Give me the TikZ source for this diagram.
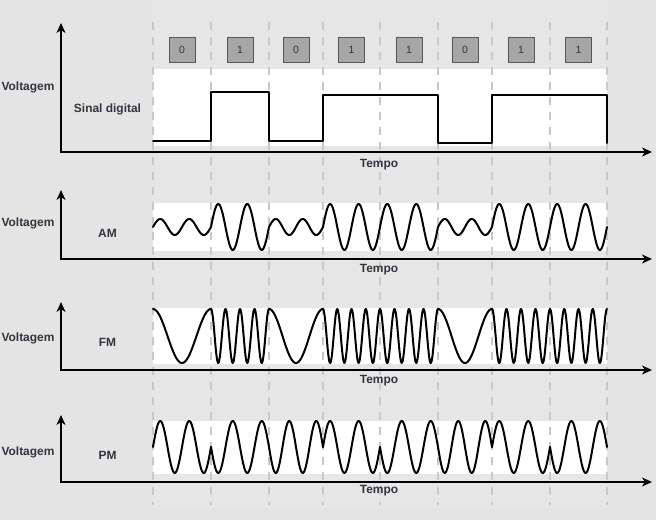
\documentclass[tikz,border=0pt]{standalone}
\usepackage{fontspec}
\setmainfont{Liberation Sans}
\usetikzlibrary{arrows.meta}
\definecolor{bg}{HTML}{E4E4E4}
\definecolor{colbg}{HTML}{E6E6E6}
\definecolor{dashc}{HTML}{C8C8C8}
\definecolor{boxfill}{HTML}{A6A6A6}
\definecolor{boxdraw}{HTML}{575757}
\definecolor{labc}{HTML}{34343F}
\tikzset{
  axis/.style={line width=2bp, black, {Stealth[length=10bp,width=9bp,inset=3bp]}-{Stealth[length=10bp,width=9bp,inset=3bp]}},
  sig/.style={line width=2bp, black, line cap=round, line join=round},
  band/.style={fill=white, draw=none},
  sep/.style={line width=2bp, dashc, dash pattern=on 8bp off 7bp},
  lab/.style={text=labc, font=\fontsize{12}{14}\selectfont\bfseries, inner sep=0pt},
  bitbox/.style={fill=boxfill, draw=boxdraw, line width=0.8bp, minimum width=26bp, minimum height=25bp, inner sep=0pt, text=labc, font=\fontsize{10.5}{12}\selectfont}
}
\begin{document}
\begin{tikzpicture}[x=1bp,y=-1bp]
\useasboundingbox (0,0) rectangle (656,520);
\fill[bg] (0,0) rectangle (656,520);
\fill[colbg] (153,0) rectangle (607,508);
% white bands
\fill[band] (153,69) rectangle (607,146);
\fill[band] (153,203) rectangle (607,251);
\fill[band] (153,308) rectangle (607,364);
\fill[band] (153,421) rectangle (607,474);
% dashed separators
\foreach \xx in {153,211,269,323,380,438,492,550,607}
  \draw[sep] (\xx,22) -- (\xx,505);
% bit boxes
\foreach \xx/\bb/\nn in {182/0/b1,240/1/b2,296/0/b3,351.5/1/b4,409/1/b5,465/0/b6,521/1/b7,578.5/1/b8}
  \node[bitbox] (\nn) at (\xx,49.5) {\bb};
% axes
\foreach \i/\top/\ax in {1/23/152,2/190/259,3/302/370,4/415/482}{
  \coordinate (ytip\i) at (61,\top);
  \coordinate (xtip\i) at (652,\ax);
  \draw[axis] (ytip\i) |- (xtip\i);
}
% labels
\node[lab] (v1) at (28,87) {Voltagem};
\node[lab] (v2) at (28,223) {Voltagem};
\node[lab] (v3) at (28,338) {Voltagem};
\node[lab] (v4) at (28,452) {Voltagem};
\node[lab] (n1) at (107.5,109) {Sinal digital};
\node[lab] (n2) at (107.5,233) {AM};
\node[lab] (n3) at (107.5,342) {FM};
\node[lab] (n4) at (107.5,455) {PM};
\node[lab] (t1) at (379,165) {Tempo};
\node[lab] (t2) at (379,270) {Tempo};
\node[lab] (t3) at (379,381) {Tempo};
\node[lab] (t4) at (379,491) {Tempo};
% digital signal
\draw[sig] (153,141) -- (211,141) -- (211,92) -- (269,92) -- (269,141) -- (323,141)
  -- (323,95) -- (438,95) -- (438,143) -- (492,143) -- (492,95) -- (607,95) -- (607,143);
% modulated signals
\foreach \a/\b/\bit/\s in {153/211/0/1,211/269/1/-1,269/323/0/-1,323/380/1/1,380/438/1/-1,438/492/0/-1,492/550/1/1,550/607/1/-1}{
  \pgfmathsetmacro{\amp}{\bit==1 ? 23 : 8}
  \pgfmathsetmacro{\nf}{\bit==1 ? 4 : 1}
  \pgfmathsetmacro{\wd}{\b-\a}
  \draw[sig] plot[domain=\a:\b, samples=80] (\x, {227 - \amp*sin((\x-\a)/\wd*720)});
  \draw[sig] plot[domain=\a:\b, samples=120] (\x, {336 - 27*cos((\x-\a)/\wd*360*\nf)});
  \draw[sig] plot[domain=\a:\b, samples=80] (\x, {447 - \s*26*sin((\x-\a)/\wd*720)});
}
\end{tikzpicture}
\end{document}
